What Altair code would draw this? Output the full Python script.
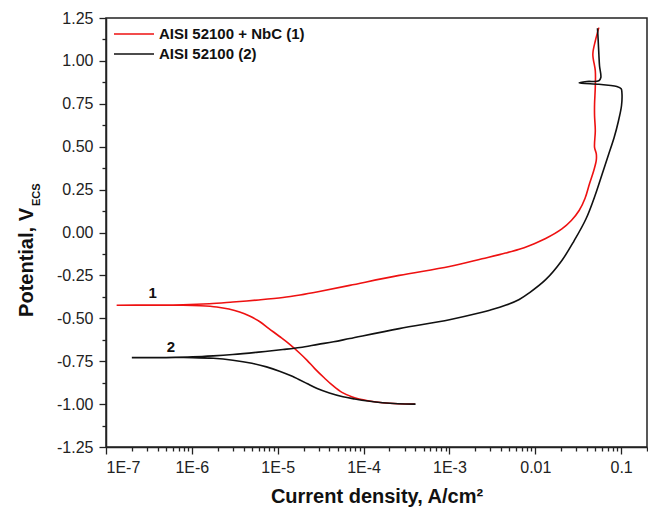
import altair as alt
import pandas as pd

# ---- data ----
S1 = "AISI 52100 + NbC (1)"
S2 = "AISI 52100 (2)"

nbc_i = [3.98e-4, 2.51e-4, 1.66e-4, 1.12e-4, 7.4e-5, 5.6e-5, 4.4e-5, 3.5e-5, 2.7e-5, 2.2e-5,
         1.82e-5, 1.38e-5, 1.05e-5, 7.9e-6, 6.2e-6, 4.7e-6, 3.6e-6, 2.7e-6, 1.95e-6, 1.26e-6,
         7.9e-7, 3.2e-7, 1.33e-7,
         3.2e-7, 7.9e-7, 1.6e-6, 3.0e-6, 6.0e-6, 1.15e-5, 1.82e-5, 2.95e-5, 6.9e-5, 2.6e-4,
         1.0e-3, 2.4e-3, 4.5e-3, 6.5e-3, 8.5e-3, 1.32e-2, 2.04e-2, 2.63e-2, 3.24e-2, 3.8e-2,
         4.27e-2, 4.79e-2, 5.13e-2, 5.13e-2, 4.9e-2, 5.0e-2, 4.9e-2, 4.9e-2, 5.0e-2, 5.0e-2,
         4.68e-2, 5.0e-2, 5.5e-2]
nbc_e = [-1.000, -0.998, -0.992, -0.980, -0.958, -0.932, -0.893, -0.848, -0.793, -0.745,
         -0.705, -0.652, -0.606, -0.560, -0.520, -0.487, -0.463, -0.446, -0.434, -0.427,
         -0.424, -0.424, -0.424,
         -0.423, -0.421, -0.415, -0.405, -0.393, -0.379, -0.364, -0.345, -0.308, -0.250,
         -0.198, -0.153, -0.120, -0.098, -0.077, -0.035, 0.021, 0.070, 0.128, 0.200,
         0.283, 0.360, 0.420, 0.460, 0.496, 0.593, 0.680, 0.748, 0.850, 0.942,
         1.039, 1.116, 1.194]

base_i = [4.03e-4, 2.51e-4, 1.66e-4, 1.12e-4, 7.9e-5, 5.75e-5, 4.0e-5, 2.88e-5, 2.19e-5, 1.74e-5,
          1.48e-5, 1.05e-5, 7.4e-6, 5.0e-6, 3.0e-6, 1.78e-6, 1.02e-6, 5.0e-7, 2.0e-7,
          5.0e-7, 1.02e-6, 1.78e-6, 3.0e-6, 6.0e-6, 1.15e-5, 1.82e-5, 2.95e-5, 4.47e-5, 6.9e-5,
          2.6e-4, 1.0e-3, 2.4e-3, 2.95e-3, 4.57e-3, 6.5e-3, 8.5e-3, 1.32e-2, 2.04e-2, 2.82e-2,
          3.9e-2, 5.0e-2, 6.0e-2, 7.2e-2, 8.3e-2, 9.3e-2, 0.101, 0.102, 0.100, 8.9e-2, 7.1e-2,
          5.5e-2, 3.24e-2, 3.98e-2, 5.5e-2, 5.8e-2, 5.6e-2, 5.5e-2, 5.4e-2, 5.3e-2]
base_e = [-1.000, -0.998, -0.992, -0.982, -0.970, -0.957, -0.935, -0.909, -0.880, -0.855,
          -0.838, -0.808, -0.783, -0.762, -0.744, -0.733, -0.729, -0.729, -0.729,
          -0.728, -0.725, -0.719, -0.711, -0.697, -0.682, -0.670, -0.652, -0.637, -0.618,
          -0.560, -0.508, -0.465, -0.453, -0.423, -0.390, -0.352, -0.275, -0.163, -0.050,
          0.080, 0.220, 0.340, 0.460, 0.555, 0.650, 0.740, 0.816, 0.838, 0.851, 0.858,
          0.864, 0.872, 0.880, 0.884, 0.903, 0.970, 1.039, 1.120, 1.190]

curve_labels = ["1", "2"]
label_i = [3.5e-7, 5.7e-7]
label_e = [-0.355, -0.669]

x_major = [1e-7, 1e-6, 1e-5, 1e-4, 1e-3, 1e-2, 1e-1]
x_minor = [m * d for d in [1e-7, 1e-6, 1e-5, 1e-4, 1e-3, 1e-2, 1e-1] for m in range(2, 10) if m * d <= 0.2]
y_major = [-1.25, -1.0, -0.75, -0.5, -0.25, 0.0, 0.25, 0.5, 0.75, 1.0, 1.25]
y_minor = [-1.125, -0.875, -0.625, -0.375, -0.125, 0.125, 0.375, 0.625, 0.875, 1.125]

# ---- tables ----
df = pd.concat([
    pd.DataFrame({"i": nbc_i, "E": nbc_e, "series": S1, "idx": range(len(nbc_i))}),
    pd.DataFrame({"i": base_i, "E": base_e, "series": S2, "idx": range(len(base_i))}),
])
lab = pd.DataFrame({"i": label_i, "E": label_e, "t": curve_labels})

FONT = "Liberation Sans"
xdom = [1e-7, 0.2]
ydom = [-1.25, 1.25]

x_lab_expr = ("datum.value >= 0.005 ? format(datum.value, '~g') : "
              "'1E-' + format(-round(log(datum.value) / LN10), 'd')")
y_lab_expr = "replace(format(datum.value, '.2f'), '\u2212', '-')"

lines = alt.Chart(df).mark_line(strokeWidth=1.6, clip=True, interpolate="catmull-rom").encode(
    x=alt.X("i:Q", scale=alt.Scale(type="log", domain=xdom, nice=False),
            axis=alt.Axis(values=x_major, labelExpr=x_lab_expr, orient="bottom",
                          title="Current density, A/cm\u00b2", titleFontSize=20,
                          titleFontWeight="bold", titleFont=FONT, titlePadding=11,
                          titleColor="#111", tickSize=7, labelPadding=5, grid=False)),
    y=alt.Y("E:Q", scale=alt.Scale(domain=ydom, nice=False, zero=False),
            axis=alt.Axis(values=y_major, labelExpr=y_lab_expr, orient="left",
                          title=None, tickSize=7, labelPadding=6, grid=False)),
    color=alt.Color("series:N",
                    scale=alt.Scale(domain=[S1, S2], range=["#ee1111", "#111111"]),
                    legend=alt.Legend(orient="none", legendX=19, legendY=7, title=None,
                                      symbolType="M-2.5,0H2.5", symbolSize=256,
                                      symbolStrokeWidth=1.5, labelFontSize=15,
                                      labelFontWeight="bold", labelFont=FONT,
                                      labelColor="#111", labelOffset=16, rowPadding=3,
                                      padding=0)),
    order=alt.Order("idx:Q"),
)

labels = alt.Chart(lab).mark_text(fontSize=15, fontWeight="bold", font=FONT,
                                  color="#111", baseline="middle", align="center").encode(
    x=alt.X("i:Q", scale=alt.Scale(type="log", domain=xdom, nice=False),
            axis=alt.Axis(values=x_minor, labels=False, domain=False, tickSize=4,
                          orient="bottom", title=None, grid=False)),
    y=alt.Y("E:Q", scale=alt.Scale(domain=ydom, nice=False, zero=False),
            axis=alt.Axis(values=y_minor, labels=False, domain=False, tickSize=4,
                          orient="left", title=None, grid=False)),
    text="t:N",
)

ytitle_main = alt.Chart(pd.DataFrame({"t": ["Potential, V"]})).mark_text(
    angle=270, align="right", baseline="alphabetic", fontSize=20, fontWeight="bold",
    font=FONT, color="#111").encode(x=alt.value(-73), y=alt.value(190), text="t:N")
ytitle_sub = alt.Chart(pd.DataFrame({"t": ["ECS"]})).mark_text(
    angle=270, align="left", baseline="alphabetic", fontSize=11, fontWeight="bold",
    font=FONT, color="#111").encode(x=alt.value(-66), y=alt.value(188), text="t:N")

chart = alt.layer(lines, labels, ytitle_main, ytitle_sub).resolve_axis(
    x="independent", y="independent"
).properties(
    width=541, height=429,
    autosize=alt.AutoSizeParams(type="none"),
    padding={"left": 98, "top": 10, "right": 1, "bottom": 61},
).configure_view(
    stroke="#222", strokeWidth=1.5
).configure_axis(
    domainColor="#222", domainWidth=1.5, tickColor="#222", tickWidth=1.3,
    labelFont=FONT, labelFontSize=16, labelColor="#222",
)

chart.save("out.html", embed_options={"renderer": "svg", "actions": False})
